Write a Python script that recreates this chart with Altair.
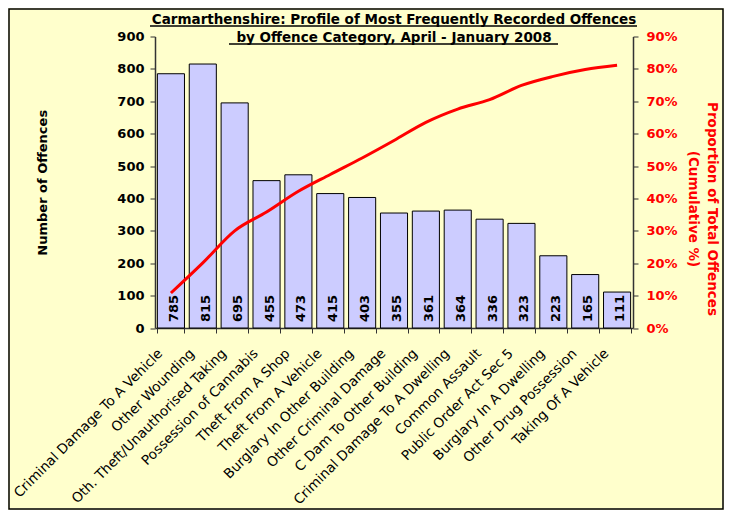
import altair as alt
import pandas as pd

categories = [
    "Criminal Damage To A Vehicle", "Other Wounding", "Oth. Theft/Unauthorised Taking",
    "Possession of Cannabis", "Theft From A Shop", "Theft From A Vehicle",
    "Burglary In Other Building", "Other Criminal Damage", "C Dam To  Other Building",
    "Criminal Damage To A Dwelling", "Common Assault", "Public Order Act Sec 5",
    "Burglary In A Dwelling", "Other Drug Possession", "Taking Of A Vehicle",
]
counts = [785, 815, 695, 455, 473, 415, 403, 355, 361, 364, 336, 323, 223, 165, 111]
cum_pct = [10.8, 20.1, 30.0, 35.8, 42.2, 47.4, 52.5, 57.9, 63.5, 67.6, 70.5, 74.9, 77.7, 79.8, 81.1]

title_lines = ["Carmarthenshire: Profile of Most Frequently Recorded Offences",
               "by Offence Category, April - January 2008"]

df = pd.DataFrame({"cat": categories, "n": counts, "pct": [p / 100 for p in cum_pct]})

FONT = "DejaVu Sans"
W, H = 478, 291.5
PAD = {"left": 147, "top": 28.5, "right": 91, "bottom": 182}

x = alt.X("cat:N", sort=categories, title=None,
          scale=alt.Scale(paddingInner=0.15, paddingOuter=0.075),
          axis=alt.Axis(labelAngle=-45, labelFont=FONT, labelFontSize=13.6,
                        labelColor="black", labelPadding=18, labelOffset=-11,
                        tickBand="extent", labelLimit=400, labelOverlap=False,
                        tickSize=5, tickColor="#333", domainColor="#333",
                        domainWidth=1.5, labelAlign="right", labelBaseline="middle"))

y_left_axis = alt.Axis(values=list(range(0, 901, 100)), title="Number of Offences",
                       labelOverlap=False, grid=False,
                       labelFont=FONT, labelFontSize=13, labelFontWeight="bold",
                       labelColor="black", labelPadding=6, tickSize=5,
                       tickColor="#333", domainColor="#333", domainWidth=1.5,
                       titleFont=FONT, titleFontSize=13, titleFontWeight="bold",
                       titleColor="black", titleX=-106, titleY=H / 2, titleAngle=-90)

bars = alt.Chart(df).mark_bar(fill="#CCCCFF", stroke="black", strokeWidth=1).encode(
    x=x,
    y=alt.Y("n:Q", scale=alt.Scale(domain=[0, 900]), axis=y_left_axis),
)

labels = alt.Chart(df).mark_text(angle=270, align="left", baseline="middle", dx=6, dy=3,
                                 font=FONT, fontSize=13, fontWeight="bold",
                                 color="black").encode(
    x=alt.X("cat:N", sort=categories),
    y=alt.YDatum(0, axis=y_left_axis),
    text=alt.Text("n:Q"),
)

line = alt.Chart(df).mark_line(color="#FF0000", strokeWidth=3, interpolate="monotone").encode(
    x=alt.X("cat:N", sort=categories),
    y=alt.Y("pct:Q", scale=alt.Scale(domain=[0, 0.9]),
            axis=alt.Axis(orient="right", values=[i / 10 for i in range(10)], format=".0%",
                          title=["Proportion of Total Offences", "(Cumulative %)"],
                          labelOverlap=False, grid=False,
                          labelFont=FONT, labelFontSize=13, labelFontWeight="bold",
                          labelColor="#FF0000", labelPadding=8, tickSize=5,
                          tickColor="#333", domainColor="#333", domainWidth=1.5,
                          titleFont=FONT, titleFontSize=13.5, titleFontWeight="bold",
                          titleColor="#FF0000", titleAngle=90, titlePadding=8,
                          titleLineHeight=19, titleY=172)),
)

u1 = alt.Chart(pd.DataFrame({"k": [0]})).mark_rule(color="black", strokeWidth=1.5).encode(
    x=alt.value(-5), x2=alt.value(482), y=alt.value(-10.5))
u2 = alt.Chart(pd.DataFrame({"k": [0]})).mark_rule(color="black", strokeWidth=1.5).encode(
    x=alt.value(74), x2=alt.value(403), y=alt.value(7.5))
frame = alt.Chart(pd.DataFrame({"k": [0]})).mark_rect(fill=None, stroke="black", strokeWidth=1.5).encode(
    x=alt.value(-PAD["left"] + 1), x2=alt.value(W + PAD["right"] - 1),
    y=alt.value(-PAD["top"] + 1), y2=alt.value(H + PAD["bottom"] - 1))

chart = alt.layer(alt.layer(bars, labels), line, u1, u2, frame).resolve_scale(
    y="independent"
).properties(
    width=W, height=H,
    autosize=alt.AutoSizeParams(type="none"),
    padding=PAD,
    background="#FFFFCC",
    title=alt.TitleParams(text=title_lines, font=FONT, fontSize=13.5, fontWeight="bold",
                          color="black", anchor="middle", lineHeight=18, offset=-36),
).configure_view(stroke=None).configure_axis(grid=False)

chart.save("out.html", embed_options={"renderer": "svg", "actions": False})
